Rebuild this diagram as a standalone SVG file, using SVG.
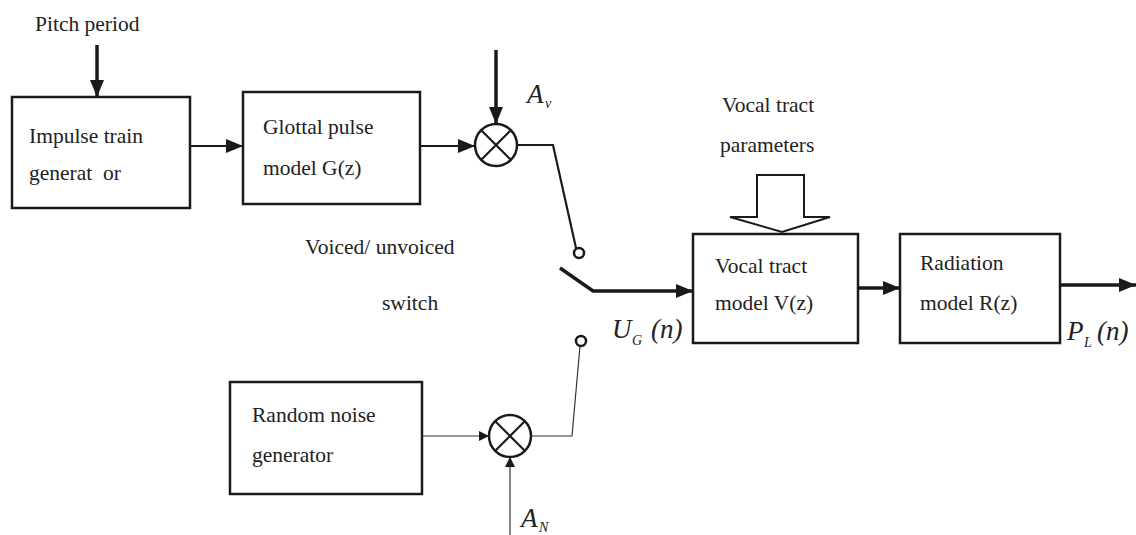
<svg xmlns="http://www.w3.org/2000/svg" width="1136" height="535" viewBox="0 0 1136 535">
<defs>
<style>
text{font-family:"Liberation Serif","Times New Roman",serif;font-size:21.5px;fill:#222}
.pre{white-space:pre}
.box{fill:none;stroke:#1a1a1a;stroke-width:2.5}
.m{font-style:italic;font-size:27px}
.sub{font-style:italic;font-size:14px}
.thick{stroke:#1a1a1a;stroke-width:3.5;fill:none}
.med{stroke:#1a1a1a;stroke-width:2.2;fill:none}
.thin{stroke:#333;stroke-width:1.2;fill:none}
.mult{fill:#fff;stroke:#1a1a1a;stroke-width:2.5}
.contact{fill:#fff;stroke:#1a1a1a;stroke-width:2.5}
</style>
<marker id="big" markerUnits="userSpaceOnUse" markerWidth="18" markerHeight="14" refX="17" refY="7" orient="auto"><path d="M0,0 L17,7 L0,14 z" fill="#1a1a1a"/></marker>
<marker id="sm" markerUnits="userSpaceOnUse" markerWidth="11" markerHeight="10" refX="10" refY="5" orient="auto"><path d="M0,0 L10,5 L0,10 z" fill="#1a1a1a"/></marker>
</defs>
<rect width="1136" height="535" fill="#fff"/>

<text x="35" y="31">Pitch period</text>

<g id="impulse">
<rect class="box" x="12" y="97" width="178" height="111"/>
<text x="29" y="143">Impulse train</text>
<text x="29" y="180" class="pre">generat  or</text>
</g>

<g id="glottal">
<rect class="box" x="243" y="92" width="177" height="112"/>
<text x="263" y="134">Glottal pulse</text>
<text x="263" y="175">model G(z)</text>
</g>

<g id="mult-v">
<circle class="mult" cx="496" cy="145" r="21"/>
<path d="M481,130 L511,160 M511,130 L481,160" class="med"/>
<text x="527" y="103" class="m">A</text><text x="545" y="108" class="sub">v</text>
</g>

<g id="switch-label">
<text x="305" y="254">Voiced/ unvoiced</text>
<text x="382" y="310">switch</text>
</g>

<g id="noise">
<rect class="box" x="230" y="382" width="192" height="112"/>
<text x="252" y="422">Random noise</text>
<text x="252" y="462">generator</text>
</g>

<g id="mult-n">
<circle class="mult" cx="510" cy="436" r="21"/>
<path d="M495,421 L525,451 M525,421 L495,451" class="med"/>
<text x="521" y="527" class="m">A</text><text x="539" y="532" class="sub">N</text>
</g>

<g id="vt-params">
<text x="722" y="112">Vocal tract</text>
<text x="720" y="152">parameters</text>
<polygon points="757,175 804,175 804,217 830,217 782,232 730,217 757,217" fill="#fff" stroke="#1a1a1a" stroke-width="2"/>
</g>

<g id="vocal">
<rect class="box" x="693" y="234" width="165" height="109"/>
<text x="715" y="273">Vocal tract</text>
<text x="715" y="310">model V(z)</text>
</g>

<g id="radiation">
<rect class="box" x="900" y="234" width="160" height="109"/>
<text x="920" y="270">Radiation</text>
<text x="920" y="310">model R(z)</text>
</g>

<g id="labels">
<text x="612" y="338" class="m">U</text><text x="632" y="345" class="sub">G</text><text x="651" y="338" class="m">(n)</text>
<text x="1067" y="340" class="m">P</text><text x="1084" y="347" class="sub">L</text><text x="1097" y="340" class="m">(n)</text>
</g>

<g id="connectors">
<line x1="97" y1="45" x2="97" y2="97" class="thick" marker-end="url(#big)"/>
<line x1="190" y1="146" x2="243" y2="146" class="med" marker-end="url(#big)"/>
<line x1="420" y1="146" x2="475" y2="146" class="med" marker-end="url(#big)"/>
<line x1="496" y1="50" x2="496" y2="124" class="thick" marker-end="url(#big)"/>
<polyline points="517,145 553,145 576,248" class="med"/>
<circle class="contact" cx="579" cy="253" r="5"/>
<polyline points="560,268 593,291 693,291" class="thick" marker-end="url(#big)"/>
<line x1="422" y1="436" x2="489" y2="436" class="thin" marker-end="url(#sm)"/>
<line x1="510" y1="535" x2="510" y2="457" class="thin" marker-end="url(#sm)"/>
<polyline points="531,436 572,436 580,346" class="thin"/>
<circle class="contact" cx="581" cy="341" r="5"/>
<line x1="858" y1="288" x2="900" y2="288" class="thick" marker-end="url(#big)"/>
<line x1="1060" y1="285" x2="1136" y2="285" class="thick" marker-end="url(#big)"/>
</g>
</svg>
